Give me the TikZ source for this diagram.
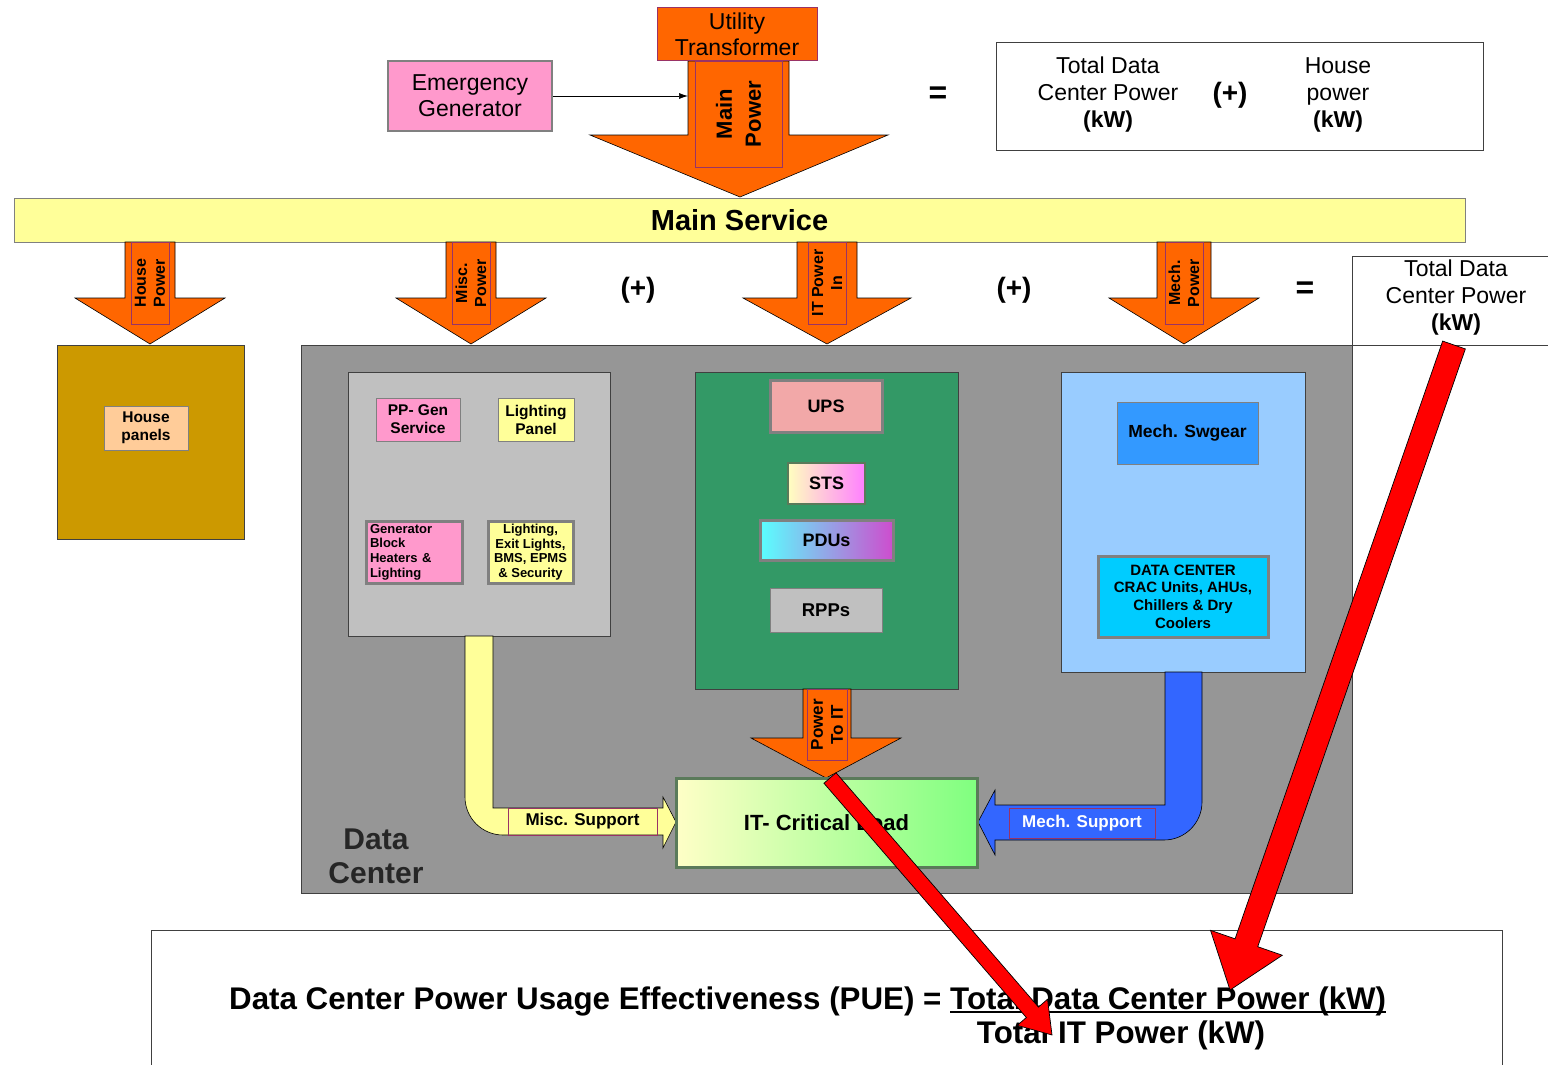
\documentclass[tikz,border=0pt]{standalone}
\usepackage{fontspec}
\setmainfont{Liberation Sans}
\usetikzlibrary{arrows.meta,calc}
\definecolor{feed}{HTML}{FF6600}
\definecolor{labelline}{HTML}{993366}
\definecolor{svcyellow}{HTML}{FFFF99}
\definecolor{houseochre}{HTML}{CC9900}
\definecolor{housepanel}{HTML}{FFCC99}
\definecolor{dcgrey}{HTML}{969696}
\definecolor{miscgrey}{HTML}{C0C0C0}
\definecolor{genpink}{HTML}{FF99CC}
\definecolor{itgreen}{HTML}{339966}
\definecolor{upspink}{HTML}{F2A8A8}
\definecolor{mechsky}{HTML}{99CCFF}
\definecolor{swgear}{HTML}{3399FF}
\definecolor{crac}{HTML}{00CCFF}
\definecolor{mechflow}{HTML}{3366FF}
\definecolor{boxedge}{HTML}{808080}
\definecolor{loadedge}{HTML}{5A7A5A}
\newcommand\fsz[2]{\fontsize{#1}{#2}\selectfont\bfseries}
% text with a heavy rule under it
\newcommand\rulebelow[1]{\setbox0=\hbox{#1}\rlap{\rule[-4pt]{\wd0}{2.4pt}}\box0}
% red block arrow: from, to, half shaft, head length, half head
\newcommand\redarrow[5]{%
 \coordinate (ra-h) at ($(#2)!#4!(#1)$);
 \draw[pointer] ($(#1)!#3!90:(#2)$) -- ($(ra-h)!#3!90:(#2)$) -- ($(ra-h)!#5!90:(#2)$)
  -- (#2) -- ($(ra-h)!#5!-90:(#2)$) -- ($(ra-h)!#3!-90:(#2)$) -- ($(#1)!#3!-90:(#2)$) -- cycle;
}

\begin{document}
\begin{tikzpicture}[x=1pt,y=-1pt,font=\bfseries,
  box/.style={draw=boxedge,line width=1pt,inner sep=0pt,align=center},
  heavybox/.style={box,line width=3pt},
  zone/.style={draw=black!75,line width=1pt,inner sep=0pt},
  lbl/.style={draw=labelline,line width=.6pt,inner sep=0pt,rotate=90,align=center},
  flow/.style={fill=feed,draw=black,line width=.6pt},
  pointer/.style={fill=red,draw=black,line width=.7pt},
  sign/.style={inner sep=0pt}]
\useasboundingbox (0,0) rectangle (1548,1065);

% feed from the utility
\draw[flow] (688,61) -- (688,135) -- (590,135) -- (740,197) -- (888,135) -- (789,135) -- (789,61) -- cycle;
\node[lbl,minimum width=106,minimum height=87,font=\fsz{22}{29}] (mainlbl) at (738.5,114) {Main\\Power};
\node[box,draw=labelline,fill=feed,minimum width=160,minimum height=53,font=\fsz{23}{26}\mdseries] (trafo) at (737,34.5) {Utility\\Transformer};
\node[box,line width=2.5pt,fill=genpink,minimum width=164,minimum height=70,font=\fsz{23}{26}\mdseries] (gen) at (470,96) {Emergency\\Generator};
\coordinate (mainin) at (688,96);
\draw[-{Latex[length=9pt,width=6pt]},line width=.7pt] (gen) -- (mainin);

% sum at the top
\node[sign,font=\fsz{32}{32}] (eqtop) at (938,95) {=};
\node[zone,minimum width=487,minimum height=107] (sumbox) at (1239.5,96.5) {};
\node[align=center,font=\fsz{23}{27}] (dctop) at (1108,95) {{\mdseries Total Data}\\{\mdseries Center Power}\\(kW)};
\node[sign,font=\fsz{28}{28}] (plustop) at (1230,95) {(+)};
\node[align=center,font=\fsz{23}{27}] (housetop) at (1338,95) {{\mdseries House}\\{\mdseries power}\\(kW)};

% main service and its four branches
\node[box,fill=svcyellow,minimum width=1451,minimum height=44,font=\fsz{29}{29}] (mainsvc) at (739.5,220) {Main Service};
\foreach \cx/\sw/\hw/\txt/\nm in {150/25/75/{House\\Power}/house,471/25/75/{Misc.\\Power}/misc,827/30/84/{IT Power\\In}/itin,1184/27/75/{Mech.\\Power}/mech}{
 \draw[flow] (\cx-\sw,242) -- (\cx-\sw,298) -- (\cx-\hw,298) -- (\cx,344) -- (\cx+\hw,298) -- (\cx+\sw,298) -- (\cx+\sw,242) -- cycle;
 \node[lbl,minimum width=82,minimum height=38,font=\fsz{16}{19}] (\nm lbl) at (\cx,283) {\txt};
}
\node[sign,font=\fsz{28}{28}] (plusa) at (638,290) {(+)};
\node[sign,font=\fsz{28}{28}] (plusb) at (1014,290) {(+)};
\node[sign,font=\fsz{32}{32}] (eqmid) at (1305,290) {=};
\node[zone,anchor=north west,minimum width=230,minimum height=89] (tdcbox) at (1352,256) {};
\node[align=center,font=\fsz{23}{27}] (tdctext) at (1456,298) {{\mdseries Total Data}\\{\mdseries Center Power}\\(kW)};

% house side
\node[zone,fill=houseochre,minimum width=187,minimum height=194] (house) at (150.5,442) {};
\node[box,fill=housepanel,minimum width=84,minimum height=44,font=\fsz{15.5}{18}] (hpanels) at (146,428) {House\\panels};

% data center hall
\node[zone,fill=dcgrey,minimum width=1051,minimum height=548] (dc) at (826.5,619) {};
\node[align=center,font=\fsz{30}{34},text=black!85] (dclabel) at (376,856) {Data\\Center};

\node[zone,fill=miscgrey,minimum width=262,minimum height=264] (misc) at (479,504) {};
\node[box,fill=genpink,minimum width=84,minimum height=43,font=\fsz{15.5}{18}] (ppgen) at (418,419.5) {PP- Gen\\Service};
\node[box,fill=svcyellow,minimum width=76,minimum height=43,font=\fsz{15.5}{18}] (lpanel) at (536,419.5) {Lighting\\Panel};
\node[heavybox,fill=genpink,minimum width=96,minimum height=62,align=left,text width=88,font=\fsz{13}{14.7}] (blockht) at (414,552) {Generator\\Block\\Heaters \&\\Lighting};
\node[heavybox,fill=svcyellow,minimum width=85,minimum height=62,font=\fsz{13}{14.7}] (lights) at (530.5,552) {Lighting,\\Exit Lights,\\BMS, EPMS\\\& Security};

\node[zone,fill=itgreen,minimum width=263,minimum height=317] (itroom) at (826.5,530.5) {};
\node[heavybox,fill=upspink,minimum width=112,minimum height=52,font=\fsz{18}{18}] (ups) at (826,406) {UPS};
\node[box,draw=loadedge,line width=2.5pt,left color=yellow!25,right color=magenta!50,minimum width=77,minimum height=41,font=\fsz{18}{18}] (sts) at (826.5,483.5) {STS};
\node[heavybox,left color=cyan!65,right color=violet!55!magenta!70,minimum width=133,minimum height=40,font=\fsz{18}{18}] (pdus) at (826.5,540) {PDUs};
\node[box,fill=miscgrey,minimum width=112,minimum height=44,font=\fsz{18.5}{18.5}] (rpps) at (826,610) {RPPs};

\node[zone,fill=mechsky,minimum width=244,minimum height=300] (mechroom) at (1183,522) {};
\node[box,fill=swgear,minimum width=141,minimum height=62,font=\fsz{17.5}{17.5}] (swg) at (1187.5,433) {Mech. Swgear};
\node[heavybox,fill=crac,minimum width=170,minimum height=81,font=\fsz{15}{17.6}] (cracs) at (1183,596.5) {DATA CENTER\\CRAC Units, AHUs,\\Chillers \& Dry\\Coolers};

% feeds into the critical load
\draw[flow] (803,689) -- (803,738) -- (751,738) -- (826,778) -- (901,738) -- (851,738) -- (851,689) -- cycle;
\node[lbl,minimum width=71,minimum height=40,font=\fsz{17}{20}] (tolbl) at (827,724.5) {Power\\To IT};

\draw[fill=svcyellow,draw=black,line width=.6pt] (465,636) -- (465,797) .. controls (465,818) and (482,835) .. (503,835)
 -- (663,835) -- (663,848) -- (676,822) -- (663,797) -- (663,808) -- (493,808) -- (493,636) -- cycle;
\node[lbl,rotate=-90,minimum width=149,minimum height=27,font=\fsz{17}{17}] (misclbl) at (582.5,821.5) {Misc. Support};

\draw[fill=mechflow,draw=black,line width=.6pt] (1165,672) -- (1165,805) -- (995,805) -- (995,790) -- (978,822) -- (995,855)
 -- (995,840) -- (1164,840) .. controls (1185,840) and (1202,823) .. (1202,802) -- (1202,672) -- cycle;
\node[lbl,rotate=-90,minimum width=146,minimum height=30,text=white,font=\fsz{17}{17}] (mechlbl) at (1082,823) {Mech. Support};

\node[box,draw=loadedge,line width=3pt,left color=yellow!22,right color=green!50,minimum width=301,minimum height=89,font=\fsz{22}{22}] (itload) at (826.5,822.5) {IT- Critical Load};

% the ratio
\node[zone,anchor=north west,minimum width=1351,minimum height=150] (puebox) at (151,930) {};
\node[anchor=base west,inner sep=0pt,font=\fsz{31.3}{31.3}] (pue) at (229,1009) {Data Center Power Usage Effectiveness (PUE) = \rulebelow{Total Data Center Power (kW)}};
\node[anchor=base,inner sep=0pt,font=\fsz{31.3}{31.3}] (itpow) at (1121,1043) {Total IT Power (kW)};

\coordinate (tdcfoot) at (1454,345);
\coordinate (numtip) at (1230,990);
\redarrow{tdcfoot}{numtip}{12pt}{50pt}{38pt}
\coordinate (itfoot) at (830,778);
\coordinate (dentip) at (1052,1035);
\redarrow{itfoot}{dentip}{8pt}{30pt}{20pt}
\end{tikzpicture}
\end{document}
